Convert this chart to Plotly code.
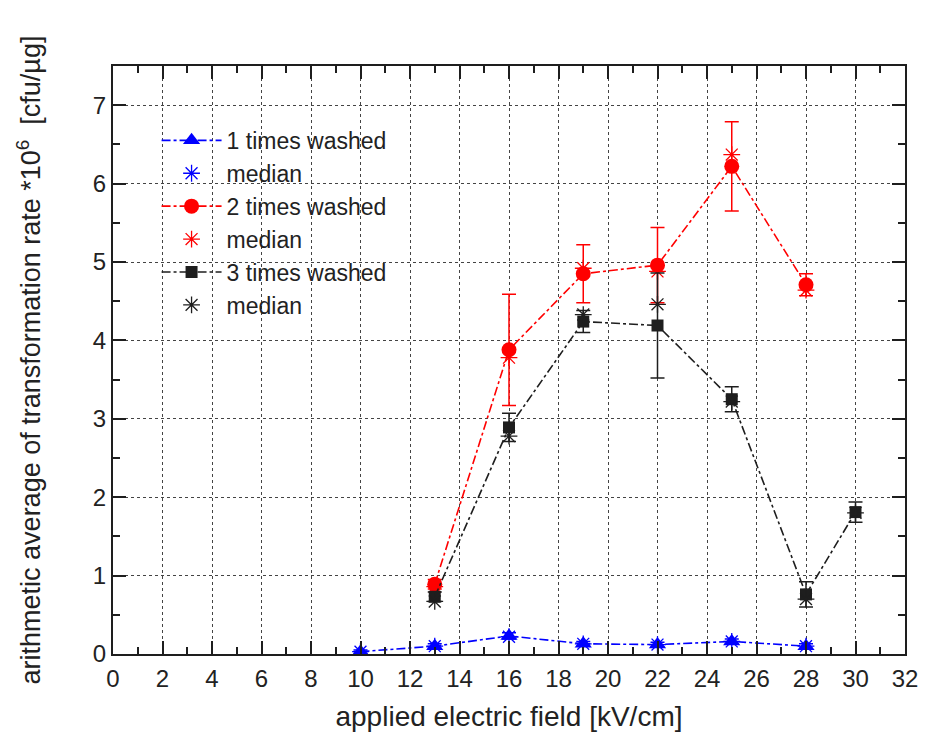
import plotly.graph_objects as go

x1 = [10, 13, 16, 19, 22, 25, 28]
mean1 = [0.03, 0.10, 0.23, 0.13, 0.12, 0.16, 0.10]
err1 = [0.02, 0.03, 0.04, 0.03, 0.03, 0.03, 0.03]
med1 = [0.03, 0.10, 0.22, 0.13, 0.12, 0.16, 0.10]

x2 = [13, 16, 19, 22, 25, 28]
mean2 = [0.89, 3.88, 4.85, 4.96, 6.22, 4.71]
err2 = [0.06, 0.71, 0.37, 0.48, 0.57, 0.14]
med2 = [0.86, 3.78, 4.92, 4.88, 6.37, 4.64]

x3 = [13, 16, 19, 22, 25, 28, 30]
mean3 = [0.73, 2.89, 4.24, 4.19, 3.25, 0.76, 1.81]
err3 = [0.06, 0.18, 0.14, 0.67, 0.16, 0.16, 0.13]
med3 = [0.67, 2.78, 4.33, 4.46, 3.22, 0.70, 1.80]

xticks = list(range(0, 33, 2))
yticks = list(range(0, 8))

BLUE = "#0000ff"
RED = "#ff0000"
BLACK = "#1e1e1e"
FONT = "Liberation Sans, Arial"

fig = go.Figure()

def add_series(x, mean, err, med, color, symbol, size, name):
    fig.add_trace(go.Scatter(
        x=x, y=mean, mode="lines+markers", name=name,
        line=dict(color=color, width=1.6, dash="dashdot"),
        marker=dict(symbol=symbol, size=size, color=color),
        error_y=dict(type="data", array=err, visible=True, color=color,
                     thickness=1.5, width=7),
    ))
    fig.add_trace(go.Scatter(
        x=x, y=med, mode="markers", name="median",
        marker=dict(symbol="asterisk-open", size=14,
                    line=dict(color=color, width=1.3), color=color),
    ))

add_series(x1, mean1, err1, med1, BLUE, "triangle-up", 15, "1 times washed")
add_series(x2, mean2, err2, med2, RED, "circle", 15, "2 times washed")
add_series(x3, mean3, err3, med3, BLACK, "square", 12, "3 times washed")

axis_common = dict(
    showline=True, linecolor="#1e1e1e", linewidth=2, mirror="ticks",
    ticks="inside", ticklen=13, tickwidth=2, tickcolor="#1e1e1e",
    showgrid=True, gridcolor="#444444", griddash="dot", gridwidth=1,
    zeroline=False,
    tickfont=dict(family=FONT, size=24, color="#222"),
)

fig.update_xaxes(
    range=[0, 32], tickvals=xticks, ticklabelstandoff=2,
    minor=dict(ticks="inside", ticklen=7, tickwidth=1.5, dtick=1, tick0=0,
               tickcolor="#1e1e1e", showgrid=False),
    title=dict(text="applied electric field [kV/cm]", standoff=16,
               font=dict(family=FONT, size=28, color="#222")),
    **axis_common,
)
fig.update_yaxes(
    range=[0, 7.5], tickvals=yticks,
    minor=dict(ticks="inside", ticklen=7, tickwidth=1.5, dtick=0.5, tick0=0,
               tickcolor="#1e1e1e", showgrid=False),
    title=dict(text="arithmetic average of transformation rate *10<sup>6</sup>  [cfu/µg]",
               standoff=44,
               font=dict(family=FONT, size=27, color="#222")),
    **axis_common,
)

fig.update_layout(
    width=930, height=742,
    margin=dict(l=113, r=17, t=66, b=88),
    plot_bgcolor="white", paper_bgcolor="white",
    showlegend=True,
    legend=dict(x=0.055, y=0.91, xanchor="left", yanchor="top",
                bgcolor="rgba(0,0,0,0)", borderwidth=0,
                font=dict(family=FONT, size=23, color="#222"),
                tracegroupgap=0, itemwidth=60),
)

fig.write_html("out.html")
